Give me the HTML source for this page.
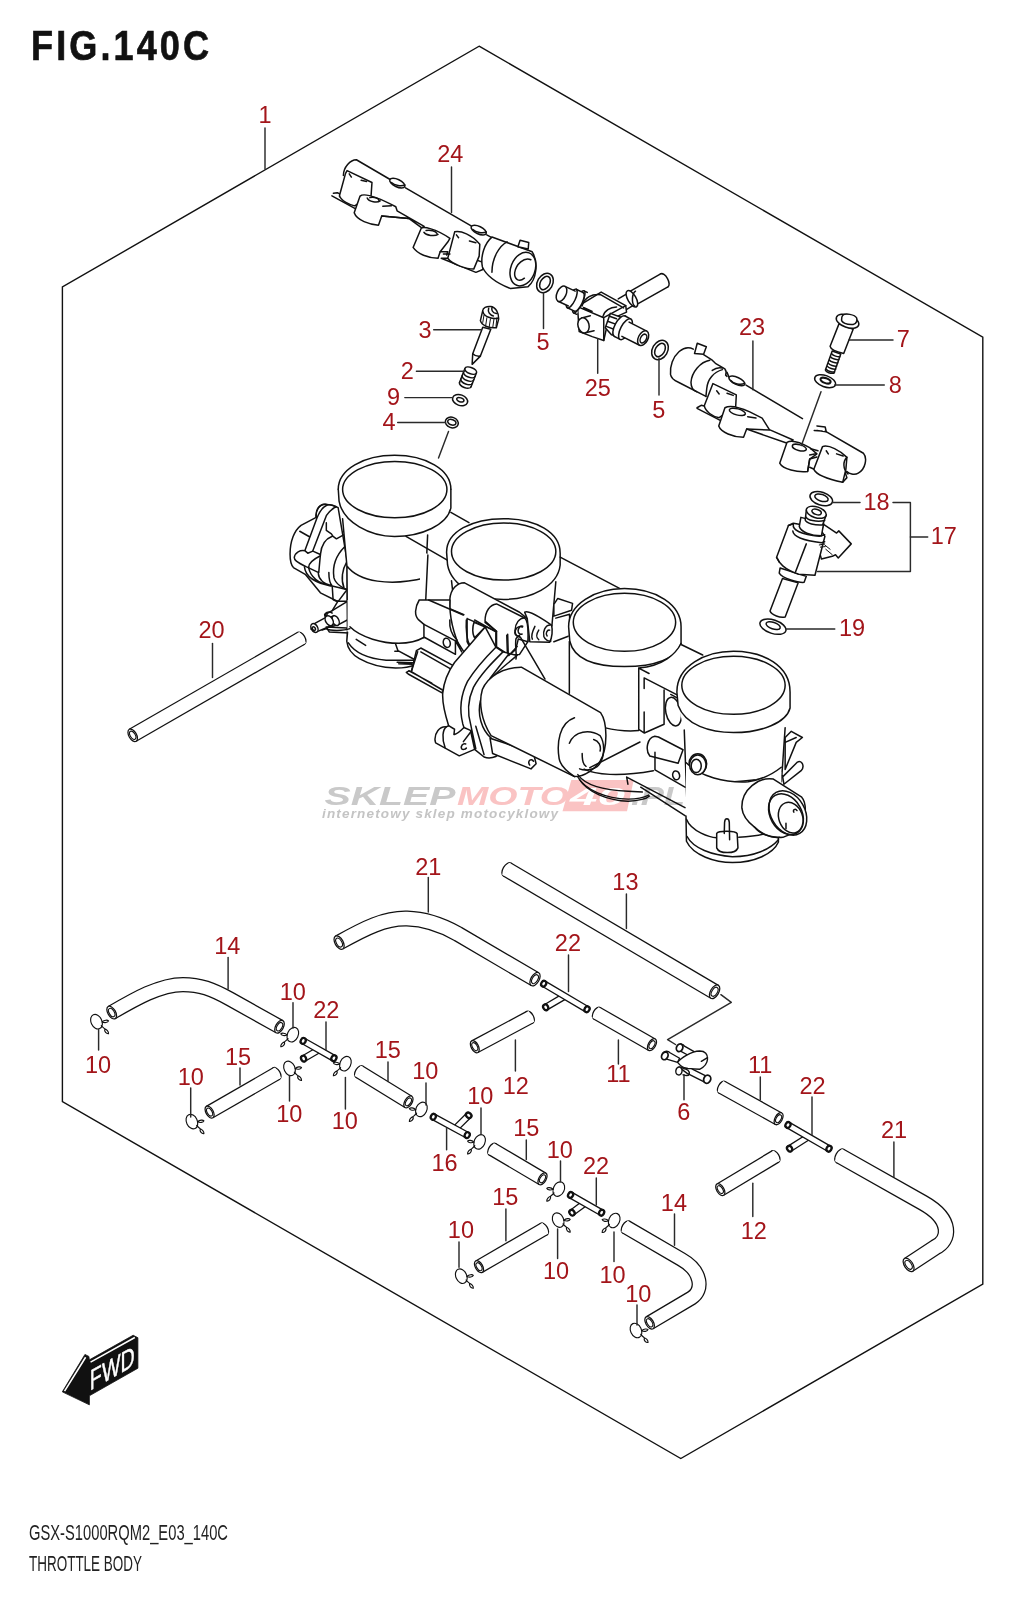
<!DOCTYPE html>
<html><head><meta charset="utf-8"><title>FIG.140C Throttle Body</title>
<style>
html,body{margin:0;padding:0;background:#fff;width:1016px;height:1600px;overflow:hidden}
svg{display:block}
.l{font-family:"Liberation Sans",sans-serif;font-size:23.5px;fill:#a3151a;text-anchor:middle}
.ln{fill:none;stroke:#2a2a2a;stroke-width:1.45;stroke-linecap:round;stroke-linejoin:round}
.p{fill:#fff;stroke:#111;stroke-width:1.5;stroke-linecap:round;stroke-linejoin:round}
.s{fill:none;stroke:#111;stroke-width:1.5;stroke-linecap:round;stroke-linejoin:round}
g.z *{vector-effect:non-scaling-stroke}
.t{fill:none;stroke:#111;stroke-width:1.1;stroke-linecap:round;stroke-linejoin:round}
</style></head><body>
<svg width="1016" height="1600" viewBox="0 0 1016 1600">
<!-- 00_frame.svg -->
<polygon points="479.1,46.2 982.8,337.1 982.8,1284.2 680.8,1458.5 62.4,1101.7 62.4,287" fill="none" stroke="#111" stroke-width="1.4" stroke-linejoin="miter"/>
<text transform="translate(31,60) scale(0.84,1)" x="0" y="0" textLength="212" lengthAdjust="spacing" style="font-family:'Liberation Sans',sans-serif;font-weight:bold;font-size:43px;fill:#111;stroke:#111;stroke-width:0.7">FIG.140C</text>
<text x="29" y="1540" textLength="199" lengthAdjust="spacingAndGlyphs" style="font-family:'Liberation Sans',sans-serif;font-size:22.5px;fill:#222">GSX-S1000RQM2_E03_140C</text>
<text x="29" y="1571" textLength="113" lengthAdjust="spacingAndGlyphs" style="font-family:'Liberation Sans',sans-serif;font-size:22.5px;fill:#222">THROTTLE BODY</text>

<!-- 10_rail24.svg -->
<g transform="translate(320,150) scale(0.21654)" class="s" style="vector-effect:non-scaling-stroke">
<g style="fill:#fff;stroke:#111;stroke-width:1.5;vector-effect:non-scaling-stroke">
<path vector-effect="non-scaling-stroke" d="M108,118 C108,80 140,45 168,45 L800,405 L760,560 L590,470 L430,430 L160,270 L55,212 L58,205 L90,200 Z" style="stroke:none"/>
<path vector-effect="non-scaling-stroke" d="M108,118 C108,80 140,45 168,45 L322,135 M395,175 L698,350 M770,392 L800,408" fill="none"/>
<ellipse vector-effect="non-scaling-stroke" cx="357" cy="153" rx="38" ry="17" transform="rotate(25 357 153)"/>
<path vector-effect="non-scaling-stroke" d="M330,150 C345,165 375,168 392,162" fill="none"/>
<ellipse vector-effect="non-scaling-stroke" cx="733" cy="370" rx="38" ry="17" transform="rotate(25 733 370)"/>
<path vector-effect="non-scaling-stroke" d="M706,367 C721,382 751,385 768,379" fill="none"/>
<path vector-effect="non-scaling-stroke" d="M62,200 L80,197 L95,205 L90,215 M55,212 L165,272" fill="none"/>
<path vector-effect="non-scaling-stroke" d="M125,95 L240,150 L236,210 L160,258 C140,255 95,235 90,210 L118,108 Z"/>
<path vector-effect="non-scaling-stroke" d="M135,110 L145,125 M190,140 L215,145" fill="none"/>
<path vector-effect="non-scaling-stroke" d="M350,262 L356,281 L481,353 L470,360 L410,316 L285,305 L270,347 C230,345 170,325 158,290 L185,213 C200,200 240,205 350,262 Z"/>
<path vector-effect="non-scaling-stroke" d="M285,305 L410,316" fill="none"/>
<path vector-effect="non-scaling-stroke" d="M218,222 C225,240 265,245 278,235 M230,220 C250,215 270,222 272,232" fill="none"/>
<path vector-effect="non-scaling-stroke" d="M290,260 L330,258" fill="none"/>
<path vector-effect="non-scaling-stroke" d="M560,500 L720,565 L752,552 L756,520 L700,500 Z"/>
<path vector-effect="non-scaling-stroke" d="M468,360 C480,355 530,360 600,408 L590,425 L555,470 L545,500 C500,500 450,480 430,450 Z"/>
<path vector-effect="non-scaling-stroke" d="M480,380 C490,395 530,400 545,390 M490,372 C510,368 535,375 540,385" fill="none"/>
<path vector-effect="non-scaling-stroke" d="M555,470 L590,470 L585,485" fill="none"/>
<path vector-effect="non-scaling-stroke" d="M622,378 C650,372 700,390 738,435 L735,490 L710,550 C680,550 610,530 590,500 Z"/>
<path vector-effect="non-scaling-stroke" d="M630,392 L640,405 M690,420 L720,428 M570,480 L600,480" fill="none"/>
<path vector-effect="non-scaling-stroke" d="M794,402 L980,470 C1010,520 1000,600 960,632 L880,640 C830,620 770,585 750,540 C740,490 760,430 794,402 Z"/>
<path vector-effect="non-scaling-stroke" d="M864,424 C829,442 794,497 794,565" fill="none"/>
<ellipse vector-effect="non-scaling-stroke" cx="937" cy="550" rx="56" ry="80" transform="rotate(21 937 550)"/>
<path vector-effect="non-scaling-stroke" d="M974,507 C944,492 904,527 899,567 C896.5,597 919,612 944,592" fill="none"/>
<path vector-effect="non-scaling-stroke" d="M914,447 L924,417 L964,427 L961.5,457 Z"/>
</g>
</g>

<!-- 20_part25.svg -->
<g class="z" transform="translate(550,265) scale(0.12795)" style="stroke-linejoin:round;stroke-linecap:round">
<ellipse cx="893" cy="120" rx="29" ry="58" transform="rotate(150.41 893 120)" fill="#fff" stroke="#111" stroke-width="1.5"/>
<polygon points="864.36,69.57 621.36,207.57 678.64,308.43 921.64,170.43" fill="#fff" stroke="none"/>
<path d="M864.36,69.57 L621.36,207.57 M921.64,170.43 L678.64,308.43" fill="none" stroke="#111" stroke-width="1.5" stroke-linecap="round"/>
<polygon points="613.25,217.41 533.25,265.41 586.75,354.59 666.75,306.59" fill="#fff" stroke="none"/>
<path d="M613.25,217.41 L533.25,265.41 M666.75,306.59 L586.75,354.59" fill="none" stroke="#111" stroke-width="1.5" stroke-linecap="round"/>
<ellipse cx="640" cy="264" rx="32" ry="72" transform="rotate(-30 640 264)" fill="#fff" stroke="#111" stroke-width="1.5"/>
<path d="M668,205 C640,225 635,300 662,322" fill="none" stroke="#111" stroke-width="1.5"/>
<path d="M215,325 L400,212 L592,318 L598,368 L530,400 L470,450 L440,500 L420,590 L330,560 L228,520 Z" fill="#fff" stroke="#111" stroke-width="1.5"/>
<path d="M215,325 L420,412 L420,590 M420,412 L592,318 M250,320 C270,255 330,222 395,232 L575,335 M262,332 L330,362 M415,400 C425,355 470,330 520,328" fill="none" stroke="#111" stroke-width="1.5"/>
<polygon points="315.45,396.79 247.45,413.79 276.55,530.21 344.55,513.21" fill="#fff" stroke="none"/>
<path d="M315.45,396.79 L247.45,413.79 M344.55,513.21 L276.55,530.21" fill="none" stroke="#111" stroke-width="1.5" stroke-linecap="round"/>
<ellipse cx="262" cy="472" rx="43.2" ry="60" transform="rotate(165.96 262 472)" fill="#fff" stroke="#111" stroke-width="1.5"/>
<polygon points="291.11,214.36 266.11,202.36 183.89,373.64 208.89,385.64" fill="#fff" stroke="none"/>
<path d="M291.11,214.36 L266.11,202.36 M208.89,385.64 L183.89,373.64" fill="none" stroke="#111" stroke-width="1.5" stroke-linecap="round"/>
<ellipse cx="225" cy="288" rx="28.5" ry="95" transform="rotate(-154.36 225 288)" fill="#fff" stroke="#111" stroke-width="1.5"/>
<ellipse cx="225" cy="288" rx="28" ry="80" transform="rotate(-154.7 225 288)" fill="#fff" stroke="#111" stroke-width="1.5"/>
<polygon points="259.19,215.67 204.19,189.67 135.81,334.33 190.81,360.33" fill="#fff" stroke="none"/>
<path d="M259.19,215.67 L204.19,189.67 M190.81,360.33 L135.81,334.33" fill="none" stroke="#111" stroke-width="1.5" stroke-linecap="round"/>
<ellipse cx="170" cy="262" rx="28" ry="80" transform="rotate(-154.7 170 262)" fill="#fff" stroke="#111" stroke-width="1.5"/>
<polygon points="196.87,203.91 116.87,166.91 63.13,283.09 143.13,320.09" fill="#fff" stroke="none"/>
<path d="M196.87,203.91 L116.87,166.91 M143.13,320.09 L63.13,283.09" fill="none" stroke="#111" stroke-width="1.5" stroke-linecap="round"/>
<ellipse cx="90" cy="225" rx="35.2" ry="64" transform="rotate(-155.18 90 225)" fill="#fff" stroke="#111" stroke-width="1.5"/>
<path d="M432,490 L472,378 L560,410 L610,430 L560,560 L480,545 Z" fill="#fff" stroke="#111" stroke-width="1.5"/>
<path d="M465,400 L520,420 M450,440 L535,470 M440,480 L520,510" fill="none" stroke="#111" stroke-width="1.5"/>
<ellipse cx="545" cy="478" rx="37.8" ry="90" transform="rotate(28.07 545 478)" fill="#fff" stroke="#111" stroke-width="1.5"/>
<polygon points="502.65,557.41 547.65,581.41 632.35,422.59 587.35,398.59" fill="#fff" stroke="none"/>
<path d="M502.65,557.41 L547.65,581.41 M587.35,398.59 L632.35,422.59" fill="none" stroke="#111" stroke-width="1.5" stroke-linecap="round"/>
<ellipse cx="590" cy="502" rx="37.8" ry="90" transform="rotate(28.07 590 502)" fill="#fff" stroke="#111" stroke-width="1.5"/>
<polygon points="561.95,557.29 699.95,627.29 756.05,516.71 618.05,446.71" fill="#fff" stroke="none"/>
<path d="M561.95,557.29 L699.95,627.29 M618.05,446.71 L756.05,516.71" fill="none" stroke="#111" stroke-width="1.5" stroke-linecap="round"/>
<ellipse cx="728" cy="572" rx="37.2" ry="62" transform="rotate(26.9 728 572)" fill="#fff" stroke="#111" stroke-width="1.5"/>
<ellipse cx="731.32" cy="573.68" rx="22.32" ry="37.2" transform="rotate(26.9 728 572)" fill="#fff" stroke="#111" stroke-width="1.5"/>
</g>
<g><ellipse cx="545" cy="283" rx="7.6" ry="10.3" transform="rotate(30 545 283)" fill="#fff" stroke="#111" stroke-width="1.5"/><ellipse cx="545" cy="283" rx="4.6" ry="7.2" transform="rotate(30 545 283)" fill="#fff" stroke="#111" stroke-width="1.5"/><ellipse cx="660" cy="350" rx="7.6" ry="10.3" transform="rotate(30 660 350)" fill="#fff" stroke="#111" stroke-width="1.5"/><ellipse cx="660" cy="350" rx="4.6" ry="7.2" transform="rotate(30 660 350)" fill="#fff" stroke="#111" stroke-width="1.5"/></g>
<!-- 30_rail23.svg -->
<g class="z" transform="translate(665,335) scale(0.2067)" style="fill:#fff;stroke:#111;stroke-width:1.5;stroke-linejoin:round;stroke-linecap:round">
<path d="M130,60 L300,180 L960,575 C975,600 970,650 930,672 L880,700 L720,690 L160,360 L150,350 L190,335 L200,290 C110,265 40,240 30,190 C20,130 60,60 130,60 Z" stroke="none"/>





<path d="M137,68.6 C114,57 91.4,61 68.6,80 C38,106.7 22.9,152.4 26.7,190.5 C30.5,213 45.7,221 64.8,228.6 L198,297" fill="none"/>
<path d="M186.7,95 L228.6,122 L243.8,137 L289.6,163.8 C297,175 297,186.7 293.4,194 L300,200" fill="none"/>
<path d="M217,122 C171,129.5 129.5,179 125.7,228.6 C125.7,251.5 133,266.7 152.4,274" fill="none"/>
<path d="M278,167.6 C236,179 205.7,213 202,259 L198,297 M228.6,171.4 C243.8,160 262.9,156 278,160" fill="none"/>
<path d="M142.9,89.5 L156,40 L200,57 L186.7,93.3 Z"/>
<path d="M300,180 L310,205 M392,242 L665,405 M775,465 L960,572 C980,595 970,650 935,668 C915,680 890,670 880,660" fill="none"/>
<ellipse cx="348" cy="222" rx="42" ry="17" transform="rotate(25 348 222)"/>
<path d="M318,220 C330,238 368,242 385,234" fill="none"/>
<path d="M735,440 L775,445 L780,468 L735,462 M722,462 L760,465" fill="none"/>
<path d="M155,352 L175,340 L195,345 M155,355 L265,412" fill="none"/>
<path d="M232,235 L345,290 L342,345 L262,400 C230,395 195,370 190,342 Z"/>
<path d="M250,270 L262,285 M300,282 L330,292" fill="none"/>
<path d="M290,352 C310,340 350,345 410,372 L470,402 L505,458 L620,508 L595,525 L395,455 L380,495 C330,495 270,470 260,440 Z"/>
<path d="M395,455 L505,460" fill="none"/>
<ellipse cx="350" cy="372" rx="40" ry="15" transform="rotate(15 350 372)"/>
<path d="M400,395 L440,402" fill="none"/>
<path d="M590,520 C605,510 640,512 700,545 L735,575 L700,600 L690,660 C640,665 570,650 555,620 Z"/>
<ellipse cx="650" cy="545" rx="35" ry="14" transform="rotate(15 650 545)"/>
<path d="M690,660 L700,600 L735,590" fill="none"/>
<path d="M705,550 L740,560 M700,580 L730,575" fill="none"/>
<path d="M700,640 L860,712 L880,690 L870,660" fill="none"/>
<path d="M762,540 C790,528 850,560 880,592 L875,650 L860,712 C800,700 735,680 720,650 Z"/>
<path d="M880,592 C860,610 860,650 885,672" fill="none"/>
<path d="M780,560 L790,575 M830,575 L862,585" fill="none"/>
</g>

<!-- 40_small.svg -->
<g class="z" transform="translate(800,305) scale(0.05906)" style="fill:#fff;stroke:#111;stroke-width:1.5;stroke-linejoin:round;stroke-linecap:round">
<path d="M545,780 L430,1100 C440,1140 520,1165 575,1155 L690,830 Z"/>
<path d="M540,830 C560,860 640,880 675,875 M520,880 C540,910 620,930 658,925 M500,935 C520,965 600,985 640,980 M482,990 C500,1020 580,1040 620,1035 M465,1040 C485,1070 565,1090 605,1085 M448,1090 C465,1120 545,1140 585,1135" fill="none"/>
<path d="M660,320 L510,700 C520,760 650,800 740,820 L900,410 Z"/>
<ellipse cx="805" cy="275" rx="200" ry="105" transform="rotate(20 805 275)"/>
<path d="M705,240 C690,300 800,340 900,330 C960,320 970,260 960,220 C930,160 760,130 720,180 C710,195 705,215 705,240 Z"/>
<ellipse cx="425" cy="1290" rx="185" ry="95" transform="rotate(20 425 1290)"/>
<ellipse cx="432" cy="1280" rx="90" ry="42" transform="rotate(20 432 1280)" style="stroke-width:2"/>
</g>
<g class="z" transform="translate(380,300) scale(0.11811)" style="fill:#fff;stroke:#111;stroke-width:1.5;stroke-linejoin:round;stroke-linecap:round">
<path d="M870,230 L785,455 L780,545 L850,475 L938,248 Z"/>
<path d="M785,455 C800,470 830,478 850,475" fill="none"/>
<path d="M870,90 L850,175 C860,215 920,240 985,235 L1005,160 C1005,110 980,60 940,55 C900,50 870,70 870,90 Z"/>
<path d="M872,100 C880,140 950,165 1000,155" fill="none"/>
<path d="M880,130 L870,190 M905,150 L895,215 M935,160 L925,225 M965,160 L955,230 M990,150 L982,222" fill="none" style="stroke-width:1"/>
<path d="M920,70 C910,100 930,130 960,135 M950,60 C940,80 950,110 985,115" fill="none"/>
<path d="M719.1,580.2 L673.1,698.2 A52,26 20 0 0 770.9,733.8 L816.9,615.8 Z" stroke="none"/>
<path d="M719.1,580.2 L673.1,698.2 M816.9,615.8 L770.9,733.8" fill="none"/>
<ellipse cx="768.0" cy="598.0" rx="52" ry="26" transform="rotate(20 768.0 598.0)"/>
<path d="M707.6,609.7 A52,26 20 0 0 805.4,645.3" fill="none"/>
<path d="M696.1,639.2 A52,26 20 0 0 793.9,674.8" fill="none"/>
<path d="M684.6,668.7 A52,26 20 0 0 782.4,704.3" fill="none"/>
<path d="M673.1,698.2 A52,26 20 0 0 770.9,733.8" fill="none"/>
<ellipse cx="678" cy="848" rx="66" ry="45" transform="rotate(20 678 848)"/>
<ellipse cx="680" cy="845" rx="32" ry="17" transform="rotate(20 680 845)"/>
<ellipse cx="608" cy="1037" rx="56" ry="44" transform="rotate(20 608 1037)"/>
<ellipse cx="608" cy="1035" rx="36" ry="23" transform="rotate(20 608 1035)"/>
</g>
<line x1="448.5" y1="431.5" x2="438.5" y2="458" class="ln"/>
<line x1="821" y1="391.8" x2="801.4" y2="445.6" class="ln"/>
<g class="z" transform="translate(750,480) scale(0.10827)" style="fill:#fff;stroke:#111;stroke-width:1.5;stroke-linejoin:round;stroke-linecap:round">
<ellipse cx="658" cy="172" rx="108" ry="60" transform="rotate(18 658 172)"/>
<ellipse cx="660" cy="164" rx="64" ry="31" transform="rotate(18 660 164)"/>
<path d="M300,910 L185,1210 C200,1250 280,1275 325,1265 L445,950 Z"/>
<path d="M278,812 L270,860 C300,910 450,950 500,945 L520,890 Z"/>
<path d="M680,410 L800,490 L820,470 L935,590 L815,720 L790,690 L760,705 L660,730 L620,600 Z"/>
<path d="M700,640 L760,690 M690,600 L740,640" fill="none" style="stroke-width:1"/>
<path d="M355,420 L245,715 C270,760 300,820 450,870 L600,880 L692,520 L640,440 L400,400 Z"/>
<path d="M355,420 L400,405 M250,720 L270,760" fill="none"/>
<path d="M400,410 C390,460 470,505 640,520 L690,505" fill="none"/>
<path d="M395,470 C400,520 500,560 660,580 L690,570" fill="none"/>
<path d="M520,590 L420,850" fill="none"/>
<path d="M640,600 L690,590 M650,620 L695,615" fill="none" style="stroke-width:1"/>
<path d="M470,345 L455,430 C470,480 560,515 660,515 L680,400 Z"/>
<path d="M520,280 L510,370 C520,400 600,420 670,415 L705,320 Z"/>
<path d="M515,340 C530,370 610,390 690,375" fill="none"/>
<ellipse cx="612" cy="298" rx="95" ry="50" transform="rotate(18 612 298)"/>
<ellipse cx="615" cy="295" rx="45" ry="24" transform="rotate(18 615 295)"/>
<ellipse cx="212" cy="1355" rx="125" ry="62" transform="rotate(18 212 1355)"/>
<ellipse cx="214" cy="1345" rx="68" ry="30" transform="rotate(18 214 1345)"/>
</g>

<!-- 49_linkage.svg -->
<g class="z" transform="translate(285,495) scale(0.084337)" style="fill:#fff;stroke:#111;stroke-width:1.5;stroke-linejoin:round;stroke-linecap:round">
<path d="M370,265 L190,360 C110,420 60,550 60,700 C60,780 80,840 100,860 L240,940 L420,1160 L620,1260 L740,1260 L740,800 L630,150 L610,140 C560,120 520,110 480,110 C400,110 360,190 370,265 Z"/>
<path d="M370,265 C360,190 400,110 470,110 C500,110 510,120 490,125 C440,150 400,220 380,270 L235,660 M480,125 C520,110 560,115 610,140 C560,160 520,200 490,245 L330,660" fill="none"/>
<path d="M175,430 L290,495" fill="none"/>
<path d="M235,660 C180,650 120,680 110,740 C110,770 130,790 250,850 L400,920 L420,705 L330,665 L270,690 Z"/>
<path d="M490,330 L490,420 L550,460 L570,490 L610,520 L700,470 M420,705 C430,600 480,520 560,490 M280,860 C275,800 340,760 420,720" fill="none"/>
<path d="M710,610 C600,720 560,850 580,980 C600,1060 700,1110 730,1120 M730,800 C680,880 660,1000 700,1100" fill="none"/>
<path d="M230,850 C240,950 320,1040 560,1080 L730,1120 M280,860 C300,960 380,1040 540,1080 M395,930 C400,1000 450,1050 560,1080 M520,920 C520,1000 540,1060 560,1080 L570,1240 C600,1260 630,1260 640,1250 L730,1130" fill="none"/>
<path d="M740,1262 L560,1372 L470,1420 L590,1560 L800,1450 C820,1400 790,1300 740,1262 Z"/>
<path d="M560,1372 L630,1255" fill="none"/>
<path d="M600,1430 L390,1510 L310,1600 L640,1600 L620,1540 Z" stroke="none"/>
<path d="M580,1430 L390,1510 L310,1590 M620,1540 L440,1600" fill="none"/>
<ellipse cx="600" cy="1490" rx="38" ry="62" transform="rotate(-25 600 1490)"/>
<path d="M475,1440 C460,1400 520,1370 560,1400 M480,1440 L500,1420" fill="none"/>
</g>
<g class="z" transform="translate(280,440) scale(0.19685)" style="fill:#fff;stroke:#111;stroke-width:1.5;stroke-linejoin:round;stroke-linecap:round">
<path d="M170,935 L245,895 L270,940 L185,975 Z"/>
<ellipse cx="250" cy="918" rx="18" ry="27" transform="rotate(-30 250 918)"/>
<ellipse cx="175" cy="955" rx="16" ry="24" transform="rotate(-30 175 955)"/>
<ellipse cx="172" cy="958" rx="7" ry="10" transform="rotate(-30 172 958)"/>
<path d="M235,950 L340,955 L350,980 L250,975 Z"/>
</g>

<!-- 50_tb1.svg -->
<g class="z" transform="translate(280,440) scale(0.19685)" style="fill:#fff;stroke:#111;stroke-width:1.5;stroke-linejoin:round;stroke-linecap:round">
<!-- cylinder 1 -->
<path d="M296,250 C296,150 425,78 582,78 C740,78 868,150 868,250 L868,345 C868,380 860,420 850,440 L960,420 L1016,450 L1016,1016 L343,1016 L340,640 L318,400 C305,380 300,340 300,310 Z" stroke="none"/>
<path d="M296,250 C296,150 425,78 582,78 C740,78 868,150 868,250" fill="none"/>
<path d="M296,250 L300,310 C320,420 460,490 582,490 C720,490 850,430 868,345 L868,250" fill="none"/>
<ellipse cx="583" cy="252" rx="265" ry="143"/>
<path d="M318,400 L340,640 L343,1016 M750,482 L740,700 L735,1016 M340,640 C400,720 560,745 738,700" fill="none"/>
<path d="M868,368 L960,420 M640,490 L850,610" fill="none"/>
</g>



<!-- 51_tb2.svg -->
<g class="z" transform="translate(420,500) scale(0.19685)" style="fill:#fff;stroke:#111;stroke-width:1.5;stroke-linejoin:round;stroke-linecap:round">
<!-- frame between cyl1 and cyl2 -->
<path d="M30,270 L175,330 L160,1016 L0,1016 L0,250 Z" stroke="none"/>
<path d="M40,280 L20,700" fill="none"/>
<!-- cylinder 2 -->
<path d="M135,265 C135,160 265,95 425,95 C590,95 712,165 712,270 L712,330 L690,415 L670,640 L600,800 L170,800 L160,410 L140,330 Z" stroke="none"/>
<path d="M135,265 C135,160 265,95 425,95 C590,95 712,165 712,270 L712,330 C700,440 560,505 425,505 C300,505 160,440 140,330 L135,265" fill="none"/>
<ellipse cx="425" cy="262" rx="265" ry="145"/>
<path d="M690,415 L670,640 M160,410 L168,480" fill="none"/>
<path d="M712,290 L1016,450" fill="none"/>
<path d="M680,530 L700,500 L775,525 L770,560 L680,590 Z"/>
<path d="M690,600 L760,580 L760,690 L680,720" fill="none"/>
</g>
<g class="z" transform="translate(430,570) scale(0.12795)" style="fill:#fff;stroke:#111;stroke-width:1.5;stroke-linejoin:round;stroke-linecap:round">
<path d="M0,240 L150,320" fill="none"/>
<!-- bracket block -->
<path d="M155,230 C160,150 210,100 270,100 L700,330 L760,380 L765,560 L700,660 L600,665 L520,600 L265,640 L175,500 L150,420 Z"/>
<path d="M150,300 L265,350 M290,380 L290,560 L330,640 M290,380 L520,480 M345,430 C330,470 340,520 360,540" fill="none"/>
<!-- joint cylinder 2 (rear right) -->
<path d="M740,330 C760,318 800,330 950,430 C960,470 955,530 935,565 L780,560 L760,380 Z"/>
<path d="M940,430 C900,430 880,480 890,520 C900,550 930,560 945,555 M935,470 C915,465 900,500 915,515 M820,440 C800,480 790,520 800,540 M850,470 C830,500 830,530 850,545" fill="none"/>
<!-- joint cylinder 1 -->
<path d="M430,400 C430,320 470,270 520,265 L740,375 C765,395 770,450 765,560 L690,540 L670,620 L620,665 L520,600 L520,480 Z"/>
<path d="M740,375 C700,370 665,420 665,470 C665,500 680,520 700,520 M725,440 C700,430 685,465 690,485 C695,500 710,505 720,500" fill="none"/>
<path d="M520,480 L430,410 M600,510 L605,660" fill="none"/>
</g>

<!-- 52_tb3.svg -->
<g class="z" transform="translate(560,580) scale(0.24606)" style="fill:#fff;stroke:#111;stroke-width:1.5;stroke-linejoin:round;stroke-linecap:round">
<!-- cylinder 3 -->
<path d="M35,190 C35,100 140,35 262,35 C390,35 492,100 492,190 L492,262 L580,305 L480,600 L320,612 L180,600 C80,560 40,500 38,440 Z" stroke="none"/>
<path d="M35,190 C35,100 140,35 262,35 C390,35 492,100 492,190 L492,262 M35,190 L40,250 C60,330 160,352 262,352 C380,352 480,320 492,255" fill="none"/>
<ellipse cx="262" cy="172" rx="208" ry="118"/>
<path d="M38,250 L38,460 M180,600 C230,612 290,615 320,612 M492,262 L580,305" fill="none"/>
<!-- channel frame -->
<path d="M320,358 C420,350 470,300 492,258 L492,480 L423,447 L423,586 L343,622 L320,607 Z" stroke="none"/>
<path d="M320,358 C420,350 470,300 492,258 M320,358 L320,607 L343,622 L423,586 L423,447 M320,358 L362,380 M342,398 L478,468 M342,398 L342,441 M342,536 L342,622 M450,465 L478,480" fill="none"/>
<ellipse cx="461" cy="535" rx="31" ry="59" transform="rotate(-12 461 535)"/>
<!-- nipple behind cyl4 -->
<path d="M385,635 C355,640 345,690 365,715 L480,745 L500,690 L400,638 Z"/>
<path d="M386,700 L386,772 L508,842 M271,801 L508,925 M328,842 L508,958 M271,801 L276,830" fill="none"/>
<ellipse cx="472" cy="794" rx="14" ry="18" transform="rotate(-15 472 794)"/>
<!-- cylinder 4 -->
<path d="M475,455 C475,350 590,290 705,290 C830,290 935,350 935,455 L935,520 L915,600 L900,1016 L520,1016 L505,610 L480,510 Z" stroke="none"/>
<path d="M475,455 C475,350 590,290 705,290 C830,290 935,350 935,455 L935,520 C920,580 820,620 705,620 C610,620 510,590 480,510 L475,455" fill="none"/>
<ellipse cx="705" cy="428" rx="210" ry="118"/>
<path d="M505,610 L520,1016 M915,600 L900,820" fill="none"/>
<path d="M520,790 C580,825 700,832 905,795" fill="none"/>
<ellipse cx="560" cy="748" rx="36" ry="42"/>
<ellipse cx="553" cy="752" rx="22" ry="28"/>
<!-- right bracket -->
<path d="M915,640 L940,615 L985,640 L960,660 L915,770 Z"/>
<path d="M915,660 L960,640" fill="none"/>
<path d="M905,800 L965,740 C985,730 995,760 980,775 L910,830 Z"/>
</g>
<g class="z" transform="translate(660,720) scale(0.15748)" style="fill:#fff;stroke:#111;stroke-width:1.5;stroke-linejoin:round;stroke-linecap:round">
<path d="M165,260 C250,360 420,400 560,392 L770,330 L775,600 L750,780 C720,860 600,905 460,905 C350,905 200,860 170,770 L165,600 Z" stroke="none"/>
<path d="M165,270 C250,360 420,400 560,392 C640,380 720,340 770,300" fill="none"/>
<ellipse cx="240" cy="285" rx="52" ry="62"/>
<ellipse cx="230" cy="292" rx="32" ry="42"/>
<path d="M165,610 L168,770 C210,860 350,905 460,905 C600,905 720,850 752,775 L750,690" fill="none"/>
<path d="M168,630 C200,710 320,745 360,748 M500,745 C600,740 700,720 752,690 M172,740 C210,815 330,858 460,868 C600,868 700,820 752,760" fill="none"/>
<path d="M360,720 L360,812 C375,852 480,852 495,812 L490,722 C480,702 372,702 360,720 Z"/>
<path d="M408,720 L410,650 C412,620 438,620 440,650 L442,760" fill="none"/>
<!-- big nipple -->
<path d="M520,560 C515,440 630,360 720,375 L900,490 C935,530 930,650 880,705 L780,745 C700,752 640,720 600,680 C560,650 525,610 520,560 Z"/>
<path d="M600,680 C630,720 700,750 760,745" fill="none"/>
<ellipse cx="812" cy="590" rx="108" ry="150" transform="rotate(-30 812 590)"/>
<ellipse cx="800" cy="598" rx="100" ry="138" transform="rotate(-30 800 598)" fill="none"/>
<ellipse cx="830" cy="620" rx="75" ry="100" transform="rotate(-20 830 620)"/>
<path d="M870,575 C860,560 840,570 850,585 M800,655 L800,690" fill="none"/>
</g>

<!-- 52z_tbbottom.svg -->
<g class="z" transform="translate(320,600) scale(0.15748)" style="fill:#fff;stroke:#111;stroke-width:1.5;stroke-linejoin:round;stroke-linecap:round">
<path d="M175,160 L170,260 C175,300 200,340 240,365 C320,420 420,432 480,432 C540,432 580,420 600,410 L640,240 L665,235 L660,0 L175,0 Z" stroke="none"/>
<path d="M190,170 C260,240 400,275 500,275 C570,275 630,255 665,235" fill="none"/>
<path d="M175,205 L170,262 C175,310 210,350 250,372 C330,418 420,430 480,432 C540,432 580,422 600,412" fill="none"/>
<path d="M180,272 C220,332 300,372 420,382 L600,382 M230,250 L290,288 M490,395 L590,398 M500,405 L585,408" fill="none"/>
<path d="M480,280 L495,322 L600,378 M475,325 L500,325" fill="none"/>
<path d="M40,182 C60,197 150,197 190,182" fill="none"/>
<!-- block -->
<path d="M630,0 C600,50 600,100 625,125 L660,155 L660,235 L860,345 L860,260 L900,330 C840,200 820,100 825,0 Z"/>
<path d="M660,155 L860,260 M690,0 L910,95" fill="none"/>
<ellipse cx="805" cy="272" rx="22" ry="30" transform="rotate(-15 805 272)"/>
<!-- slanted bar -->
<path d="M612,322 L640,305 L852,420 L830,442 L775,590 L560,470 L548,460 L565,450 L580,455 Z"/>
<path d="M640,330 L835,440 M620,328 L580,455 L775,570 M565,450 L710,528" fill="none"/>
</g>

<!-- 53_motor.svg -->
<g class="z" transform="translate(425,620) scale(0.11811)" style="fill:#fff;stroke:#111;stroke-width:1.5;stroke-linejoin:round;stroke-linecap:round">
<!-- left block lines -->

<path d="M210,0 C205,70 230,130 270,170 M350,0 C345,80 355,180 380,210" fill="none"/>
<path d="M415,20 C400,60 400,120 420,150 L510,60 Z"/>
<path d="M420,0 L600,100 L600,230" fill="none"/>
<!-- mount ring -->
<path d="M510,60 L250,360 C200,430 160,520 150,620 C145,700 170,800 200,895 L180,905 C120,900 80,960 85,1020 L90,1040 L290,1150 L420,1095 L500,1160 C550,1180 600,1160 620,1140 L560,1000 C480,930 440,800 470,680 C500,560 560,480 660,400 L780,300 L660,270 L600,230 Z"/>
<path d="M600,230 C500,330 420,420 360,520 C300,640 290,760 320,880 L330,910 L385,935 L420,1095 M660,270 C560,370 470,460 410,570 C360,680 360,800 390,900 L430,1090 M430,900 L500,1140 M700,300 L550,495" fill="none"/>
<path d="M200,895 L250,925 L245,970 M330,910 C300,940 280,960 250,970 M180,905 C150,930 140,1000 170,1080 M325,1030 L385,950" fill="none"/>
<path d="M345,1050 C320,1040 300,1070 310,1090 C320,1100 340,1095 350,1085" fill="none"/>
<path d="M710,300 L780,225 M770,330 C780,300 760,230 770,160 C780,140 800,135 810,150 L1016,500 M700,120 L705,300" fill="none"/>
<path d="M825,60 C790,40 760,80 760,110 C765,140 790,140 800,130" fill="none"/>
</g>
<g class="z" transform="translate(380,600) scale(0.25591)" style="fill:#fff;stroke:#111;stroke-width:1.5;stroke-linejoin:round;stroke-linecap:round">
<!-- bottom brackets under motor -->
<path d="M430,540 L440,600 L590,660 L610,640 L600,600 L490,560 Z"/>
<path d="M600,630 C590,615 575,630 585,645" fill="none"/>
<!-- motor body -->
<path d="M554,263 L862,440 C890,480 890,580 860,630 C840,660 800,690 760,690 L434,530 C395,470 385,400 400,350 C420,300 480,262 554,263 Z"/>
<path d="M760,460 C700,480 690,560 700,620 C705,650 730,670 760,690" fill="none"/>
<path d="M740,560 C760,510 820,505 860,530 C880,560 880,620 850,650 C830,665 800,668 780,660" fill="none"/>
<path d="M790,600 C790,630 795,645 805,650 M835,545 C855,550 865,570 860,590" fill="none"/>
<path d="M820,655 L1016,555" fill="none"/>
</g>

<!-- 54_extra.svg -->
<g fill="none" stroke="#111" stroke-width="1.4" stroke-linecap="round">
<path d="M584.1,769.1 C595.1,774.6 618.7,777 653.4,770.7"/>
<path d="M577.8,774.6 C585.7,785.7 606.1,790.4 628.2,791.2 L642.4,792"/>
<path d="M577.8,777 C585.7,790.4 606.1,798.3 628.2,799.1 C637.6,799.1 643.9,797.5 648.7,795.1"/>
<path d="M579.4,779.4 C587.2,792 607.7,800.6 628.2,801.2 C639.2,801.2 647.1,798.3 649.5,795.9"/>
</g>

<!-- 60_hoses.svg -->
<ellipse cx="301.2" cy="638.3" rx="3.8" ry="6.9" transform="rotate(-29.93 301.2 638.3)" fill="#fff" stroke="#111" stroke-width="1.25"/>
<path d="M132.7,735.3 L301.2,638.3" fill="none" stroke="#111" stroke-width="15.05" stroke-linecap="butt" stroke-linejoin="round"/>
<path d="M132.7,735.3 L301.2,638.3" fill="none" stroke="#fff" stroke-width="12.55" stroke-linecap="butt" stroke-linejoin="round"/>
<path d="M300.77,638.55 L302.76,637.4" stroke="#fff" stroke-width="12.55" stroke-linecap="butt"/>
<ellipse cx="132.7" cy="735.3" rx="3.8" ry="6.9" transform="rotate(-29.93 132.7 735.3)" fill="#fff" stroke="#111" stroke-width="1.25"/>
<ellipse cx="132.7" cy="735.3" rx="2.5" ry="4.55" transform="rotate(-29.93 132.7 735.3)" fill="#fff" stroke="#111" stroke-width="1.12"/>
<ellipse cx="507.1" cy="869.5" rx="4.12" ry="7.5" transform="rotate(-149.49 507.1 869.5)" fill="#fff" stroke="#111" stroke-width="1.25"/>
<path d="M714.6,991.8 L507.1,869.5" fill="none" stroke="#111" stroke-width="16.25" stroke-linecap="butt" stroke-linejoin="round"/>
<path d="M714.6,991.8 L507.1,869.5" fill="none" stroke="#fff" stroke-width="13.75" stroke-linecap="butt" stroke-linejoin="round"/>
<path d="M507.53,869.75 L505.55,868.59" stroke="#fff" stroke-width="13.75" stroke-linecap="butt"/>
<ellipse cx="714.6" cy="991.8" rx="4.12" ry="7.5" transform="rotate(-149.49 714.6 991.8)" fill="#fff" stroke="#111" stroke-width="1.25"/>
<ellipse cx="714.6" cy="991.8" rx="2.72" ry="4.95" transform="rotate(-149.49 714.6 991.8)" fill="#fff" stroke="#111" stroke-width="1.12"/>
<ellipse cx="276.5" cy="1073.5" rx="3.63" ry="6.6" transform="rotate(-29.98 276.5 1073.5)" fill="#fff" stroke="#111" stroke-width="1.25"/>
<path d="M209.6,1112.1 L276.5,1073.5" fill="none" stroke="#111" stroke-width="14.45" stroke-linecap="butt" stroke-linejoin="round"/>
<path d="M209.6,1112.1 L276.5,1073.5" fill="none" stroke="#fff" stroke-width="11.95" stroke-linecap="butt" stroke-linejoin="round"/>
<path d="M276.07,1073.75 L278.06,1072.6" stroke="#fff" stroke-width="11.95" stroke-linecap="butt"/>
<ellipse cx="209.6" cy="1112.1" rx="3.63" ry="6.6" transform="rotate(-29.98 209.6 1112.1)" fill="#fff" stroke="#111" stroke-width="1.25"/>
<ellipse cx="209.6" cy="1112.1" rx="2.4" ry="4.36" transform="rotate(-29.98 209.6 1112.1)" fill="#fff" stroke="#111" stroke-width="1.12"/>
<ellipse cx="359.2" cy="1071.6" rx="3.63" ry="6.6" transform="rotate(-148.37 359.2 1071.6)" fill="#fff" stroke="#111" stroke-width="1.25"/>
<path d="M408.4,1101.9 L359.2,1071.6" fill="none" stroke="#111" stroke-width="14.45" stroke-linecap="butt" stroke-linejoin="round"/>
<path d="M408.4,1101.9 L359.2,1071.6" fill="none" stroke="#fff" stroke-width="11.95" stroke-linecap="butt" stroke-linejoin="round"/>
<path d="M359.63,1071.86 L357.67,1070.66" stroke="#fff" stroke-width="11.95" stroke-linecap="butt"/>
<ellipse cx="408.4" cy="1101.9" rx="3.63" ry="6.6" transform="rotate(-148.37 408.4 1101.9)" fill="#fff" stroke="#111" stroke-width="1.25"/>
<ellipse cx="408.4" cy="1101.9" rx="2.4" ry="4.36" transform="rotate(-148.37 408.4 1101.9)" fill="#fff" stroke="#111" stroke-width="1.12"/>
<ellipse cx="596.9" cy="1013.2" rx="3.63" ry="6.6" transform="rotate(-150.24 596.9 1013.2)" fill="#fff" stroke="#111" stroke-width="1.25"/>
<path d="M652,1044.7 L596.9,1013.2" fill="none" stroke="#111" stroke-width="14.45" stroke-linecap="butt" stroke-linejoin="round"/>
<path d="M652,1044.7 L596.9,1013.2" fill="none" stroke="#fff" stroke-width="11.95" stroke-linecap="butt" stroke-linejoin="round"/>
<path d="M597.33,1013.45 L595.34,1012.31" stroke="#fff" stroke-width="11.95" stroke-linecap="butt"/>
<ellipse cx="652" cy="1044.7" rx="3.63" ry="6.6" transform="rotate(-150.24 652 1044.7)" fill="#fff" stroke="#111" stroke-width="1.25"/>
<ellipse cx="652" cy="1044.7" rx="2.4" ry="4.36" transform="rotate(-150.24 652 1044.7)" fill="#fff" stroke="#111" stroke-width="1.12"/>
<ellipse cx="529.9" cy="1017.2" rx="3.63" ry="6.6" transform="rotate(-28.16 529.9 1017.2)" fill="#fff" stroke="#111" stroke-width="1.25"/>
<path d="M474.8,1046.7 L529.9,1017.2" fill="none" stroke="#111" stroke-width="14.45" stroke-linecap="butt" stroke-linejoin="round"/>
<path d="M474.8,1046.7 L529.9,1017.2" fill="none" stroke="#fff" stroke-width="11.95" stroke-linecap="butt" stroke-linejoin="round"/>
<path d="M529.46,1017.44 L531.49,1016.35" stroke="#fff" stroke-width="11.95" stroke-linecap="butt"/>
<ellipse cx="474.8" cy="1046.7" rx="3.63" ry="6.6" transform="rotate(-28.16 474.8 1046.7)" fill="#fff" stroke="#111" stroke-width="1.25"/>
<ellipse cx="474.8" cy="1046.7" rx="2.4" ry="4.36" transform="rotate(-28.16 474.8 1046.7)" fill="#fff" stroke="#111" stroke-width="1.12"/>
<ellipse cx="721.9" cy="1087.2" rx="3.63" ry="6.6" transform="rotate(-150.95 721.9 1087.2)" fill="#fff" stroke="#111" stroke-width="1.25"/>
<path d="M778.6,1118.7 L721.9,1087.2" fill="none" stroke="#111" stroke-width="14.45" stroke-linecap="butt" stroke-linejoin="round"/>
<path d="M778.6,1118.7 L721.9,1087.2" fill="none" stroke="#fff" stroke-width="11.95" stroke-linecap="butt" stroke-linejoin="round"/>
<path d="M722.34,1087.44 L720.33,1086.33" stroke="#fff" stroke-width="11.95" stroke-linecap="butt"/>
<ellipse cx="778.6" cy="1118.7" rx="3.63" ry="6.6" transform="rotate(-150.95 778.6 1118.7)" fill="#fff" stroke="#111" stroke-width="1.25"/>
<ellipse cx="778.6" cy="1118.7" rx="2.4" ry="4.36" transform="rotate(-150.95 778.6 1118.7)" fill="#fff" stroke="#111" stroke-width="1.12"/>
<ellipse cx="775.4" cy="1156.5" rx="3.63" ry="6.6" transform="rotate(-30.99 775.4 1156.5)" fill="#fff" stroke="#111" stroke-width="1.25"/>
<path d="M720.3,1189.6 L775.4,1156.5" fill="none" stroke="#111" stroke-width="14.45" stroke-linecap="butt" stroke-linejoin="round"/>
<path d="M720.3,1189.6 L775.4,1156.5" fill="none" stroke="#fff" stroke-width="11.95" stroke-linecap="butt" stroke-linejoin="round"/>
<path d="M774.97,1156.76 L776.94,1155.57" stroke="#fff" stroke-width="11.95" stroke-linecap="butt"/>
<ellipse cx="720.3" cy="1189.6" rx="3.63" ry="6.6" transform="rotate(-30.99 720.3 1189.6)" fill="#fff" stroke="#111" stroke-width="1.25"/>
<ellipse cx="720.3" cy="1189.6" rx="2.4" ry="4.36" transform="rotate(-30.99 720.3 1189.6)" fill="#fff" stroke="#111" stroke-width="1.12"/>
<ellipse cx="492.3" cy="1149.2" rx="3.63" ry="6.6" transform="rotate(-149.47 492.3 1149.2)" fill="#fff" stroke="#111" stroke-width="1.25"/>
<path d="M542.5,1178.8 L492.3,1149.2" fill="none" stroke="#111" stroke-width="14.45" stroke-linecap="butt" stroke-linejoin="round"/>
<path d="M542.5,1178.8 L492.3,1149.2" fill="none" stroke="#fff" stroke-width="11.95" stroke-linecap="butt" stroke-linejoin="round"/>
<path d="M492.73,1149.45 L490.75,1148.29" stroke="#fff" stroke-width="11.95" stroke-linecap="butt"/>
<ellipse cx="542.5" cy="1178.8" rx="3.63" ry="6.6" transform="rotate(-149.47 542.5 1178.8)" fill="#fff" stroke="#111" stroke-width="1.25"/>
<ellipse cx="542.5" cy="1178.8" rx="2.4" ry="4.36" transform="rotate(-149.47 542.5 1178.8)" fill="#fff" stroke="#111" stroke-width="1.12"/>
<ellipse cx="544" cy="1229" rx="3.63" ry="6.6" transform="rotate(-30.11 544 1229)" fill="#fff" stroke="#111" stroke-width="1.25"/>
<path d="M479,1266.7 L544,1229" fill="none" stroke="#111" stroke-width="14.45" stroke-linecap="butt" stroke-linejoin="round"/>
<path d="M479,1266.7 L544,1229" fill="none" stroke="#fff" stroke-width="11.95" stroke-linecap="butt" stroke-linejoin="round"/>
<path d="M543.57,1229.25 L545.56,1228.1" stroke="#fff" stroke-width="11.95" stroke-linecap="butt"/>
<ellipse cx="479" cy="1266.7" rx="3.63" ry="6.6" transform="rotate(-30.11 479 1266.7)" fill="#fff" stroke="#111" stroke-width="1.25"/>
<ellipse cx="479" cy="1266.7" rx="2.4" ry="4.36" transform="rotate(-30.11 479 1266.7)" fill="#fff" stroke="#111" stroke-width="1.12"/>
<path d="M111.7,1012.6 C135,999 160,984.5 183,984.5 C200,984.5 212,989 230,999 L279.5,1026.7" fill="none" stroke="#111" stroke-width="15.25" stroke-linecap="butt" stroke-linejoin="round"/>
<path d="M111.7,1012.6 C135,999 160,984.5 183,984.5 C200,984.5 212,989 230,999 L279.5,1026.7" fill="none" stroke="#fff" stroke-width="12.75" stroke-linecap="butt" stroke-linejoin="round"/>
<ellipse cx="111.7" cy="1012.6" rx="3.85" ry="7" transform="rotate(149.73 111.7 1012.6)" fill="#fff" stroke="#111" stroke-width="1.25"/>
<ellipse cx="111.7" cy="1012.6" rx="2.54" ry="4.62" transform="rotate(149.73 111.7 1012.6)" fill="#fff" stroke="#111" stroke-width="1.12"/>
<ellipse cx="279.5" cy="1026.7" rx="3.85" ry="7" transform="rotate(29.23 279.5 1026.7)" fill="#fff" stroke="#111" stroke-width="1.25"/>
<ellipse cx="279.5" cy="1026.7" rx="2.54" ry="4.62" transform="rotate(29.23 279.5 1026.7)" fill="#fff" stroke="#111" stroke-width="1.12"/>
<path d="M339.1,942.6 C365,928 385,918 407,918.6 C425,919 440,924 458,934 L535,979.2" fill="none" stroke="#111" stroke-width="16.05" stroke-linecap="butt" stroke-linejoin="round"/>
<path d="M339.1,942.6 C365,928 385,918 407,918.6 C425,919 440,924 458,934 L535,979.2" fill="none" stroke="#fff" stroke-width="13.55" stroke-linecap="butt" stroke-linejoin="round"/>
<ellipse cx="339.1" cy="942.6" rx="4.07" ry="7.4" transform="rotate(150.59 339.1 942.6)" fill="#fff" stroke="#111" stroke-width="1.25"/>
<ellipse cx="339.1" cy="942.6" rx="2.69" ry="4.88" transform="rotate(150.59 339.1 942.6)" fill="#fff" stroke="#111" stroke-width="1.12"/>
<ellipse cx="535" cy="979.2" rx="4.07" ry="7.4" transform="rotate(30.41 535 979.2)" fill="#fff" stroke="#111" stroke-width="1.25"/>
<ellipse cx="535" cy="979.2" rx="2.69" ry="4.88" transform="rotate(30.41 535 979.2)" fill="#fff" stroke="#111" stroke-width="1.12"/>
<ellipse cx="839.9" cy="1155.9" rx="4.18" ry="7.6" transform="rotate(-150.57 839.9 1155.9)" fill="#fff" stroke="#111" stroke-width="1.25"/>
<path d="M839.9,1155.9 L923.4,1203 C952.9,1219.7 949.9,1240.4 935.2,1247.3 L908.6,1264.8" fill="none" stroke="#111" stroke-width="16.45" stroke-linecap="butt" stroke-linejoin="round"/>
<path d="M839.9,1155.9 L923.4,1203 C952.9,1219.7 949.9,1240.4 935.2,1247.3 L908.6,1264.8" fill="none" stroke="#fff" stroke-width="13.95" stroke-linecap="butt" stroke-linejoin="round"/>
<path d="M840.34,1156.15 L838.33,1155.02" stroke="#fff" stroke-width="13.95" stroke-linecap="butt"/>
<ellipse cx="908.6" cy="1264.8" rx="4.18" ry="7.6" transform="rotate(146.66 908.6 1264.8)" fill="#fff" stroke="#111" stroke-width="1.25"/>
<ellipse cx="908.6" cy="1264.8" rx="2.76" ry="5.02" transform="rotate(146.66 908.6 1264.8)" fill="#fff" stroke="#111" stroke-width="1.12"/>
<ellipse cx="626" cy="1227.1" rx="3.8" ry="6.9" transform="rotate(-149.8 626 1227.1)" fill="#fff" stroke="#111" stroke-width="1.25"/>
<path d="M626,1227.1 L681.5,1259.4 C701.6,1270.8 703.9,1290.3 691.5,1298 L649.6,1322.8" fill="none" stroke="#111" stroke-width="15.05" stroke-linecap="butt" stroke-linejoin="round"/>
<path d="M626,1227.1 L681.5,1259.4 C701.6,1270.8 703.9,1290.3 691.5,1298 L649.6,1322.8" fill="none" stroke="#fff" stroke-width="12.55" stroke-linecap="butt" stroke-linejoin="round"/>
<path d="M626.43,1227.35 L624.44,1226.19" stroke="#fff" stroke-width="12.55" stroke-linecap="butt"/>
<ellipse cx="649.6" cy="1322.8" rx="3.8" ry="6.9" transform="rotate(149.38 649.6 1322.8)" fill="#fff" stroke="#111" stroke-width="1.25"/>
<ellipse cx="649.6" cy="1322.8" rx="2.5" ry="4.55" transform="rotate(149.38 649.6 1322.8)" fill="#fff" stroke="#111" stroke-width="1.12"/>
<polygon points="317.09,1047.3 302.09,1056 305.11,1061.2 320.11,1052.5" fill="#fff" stroke="none"/>
<path d="M317.09,1047.3 L302.09,1056 M320.11,1052.5 L305.11,1061.2" fill="none" stroke="#111" stroke-width="1.3" stroke-linecap="round"/>
<ellipse cx="303.6" cy="1058.6" rx="2.4" ry="3" transform="rotate(149.89 303.6 1058.6)" fill="#fff" stroke="#111" stroke-width="1.3"/>
<ellipse cx="303.2" cy="1040.9" rx="2.4" ry="3" transform="rotate(29.4 303.2 1040.9)" fill="#fff" stroke="#111" stroke-width="1.3"/>
<polygon points="301.73,1043.51 332.43,1060.81 335.37,1055.59 304.67,1038.29" fill="#fff" stroke="none"/>
<path d="M301.73,1043.51 L332.43,1060.81 M304.67,1038.29 L335.37,1055.59" fill="none" stroke="#111" stroke-width="1.3" stroke-linecap="round"/>
<ellipse cx="333.9" cy="1058.2" rx="2.4" ry="3" transform="rotate(29.4 333.9 1058.2)" fill="#fff" stroke="#111" stroke-width="1.3"/>
<ellipse cx="303.2" cy="1040.9" rx="2.4" ry="3" transform="rotate(29.4 303.2 1040.9)" fill="#fff" stroke="#111" stroke-width="2.3"/>
<ellipse cx="333.9" cy="1058.2" rx="2.4" ry="3" transform="rotate(29.4 333.9 1058.2)" fill="#fff" stroke="#111" stroke-width="2.3"/>
<ellipse cx="303.6" cy="1058.6" rx="2.4" ry="3" transform="rotate(149.89 303.6 1058.6)" fill="#fff" stroke="#111" stroke-width="2.3"/>
<polygon points="563.48,993.41 544.18,1004.71 547.22,1009.89 566.52,998.59" fill="#fff" stroke="none"/>
<path d="M563.48,993.41 L544.18,1004.71 M566.52,998.59 L547.22,1009.89" fill="none" stroke="#111" stroke-width="1.3" stroke-linecap="round"/>
<ellipse cx="545.7" cy="1007.3" rx="2.4" ry="3" transform="rotate(149.65 545.7 1007.3)" fill="#fff" stroke="#111" stroke-width="1.3"/>
<ellipse cx="543.7" cy="983.7" rx="2.4" ry="3" transform="rotate(30.59 543.7 983.7)" fill="#fff" stroke="#111" stroke-width="1.3"/>
<polygon points="542.17,986.28 585.47,1011.88 588.53,1006.72 545.23,981.12" fill="#fff" stroke="none"/>
<path d="M542.17,986.28 L585.47,1011.88 M545.23,981.12 L588.53,1006.72" fill="none" stroke="#111" stroke-width="1.3" stroke-linecap="round"/>
<ellipse cx="587" cy="1009.3" rx="2.4" ry="3" transform="rotate(30.59 587 1009.3)" fill="#fff" stroke="#111" stroke-width="1.3"/>
<ellipse cx="543.7" cy="983.7" rx="2.4" ry="3" transform="rotate(30.59 543.7 983.7)" fill="#fff" stroke="#111" stroke-width="2.3"/>
<ellipse cx="587" cy="1009.3" rx="2.4" ry="3" transform="rotate(30.59 587 1009.3)" fill="#fff" stroke="#111" stroke-width="2.3"/>
<ellipse cx="545.7" cy="1007.3" rx="2.4" ry="3" transform="rotate(149.65 545.7 1007.3)" fill="#fff" stroke="#111" stroke-width="2.3"/>
<polygon points="806.39,1134.47 787.99,1146.17 791.21,1151.23 809.61,1139.53" fill="#fff" stroke="none"/>
<path d="M806.39,1134.47 L787.99,1146.17 M809.61,1139.53 L791.21,1151.23" fill="none" stroke="#111" stroke-width="1.3" stroke-linecap="round"/>
<ellipse cx="789.6" cy="1148.7" rx="2.4" ry="3" transform="rotate(147.55 789.6 1148.7)" fill="#fff" stroke="#111" stroke-width="1.3"/>
<ellipse cx="788" cy="1125" rx="2.4" ry="3" transform="rotate(30.03 788 1125)" fill="#fff" stroke="#111" stroke-width="1.3"/>
<polygon points="786.5,1127.6 827.5,1151.3 830.5,1146.1 789.5,1122.4" fill="#fff" stroke="none"/>
<path d="M786.5,1127.6 L827.5,1151.3 M789.5,1122.4 L830.5,1146.1" fill="none" stroke="#111" stroke-width="1.3" stroke-linecap="round"/>
<ellipse cx="829" cy="1148.7" rx="2.4" ry="3" transform="rotate(30.03 829 1148.7)" fill="#fff" stroke="#111" stroke-width="1.3"/>
<ellipse cx="788" cy="1125" rx="2.4" ry="3" transform="rotate(30.03 788 1125)" fill="#fff" stroke="#111" stroke-width="2.3"/>
<ellipse cx="829" cy="1148.7" rx="2.4" ry="3" transform="rotate(30.03 829 1148.7)" fill="#fff" stroke="#111" stroke-width="2.3"/>
<ellipse cx="789.6" cy="1148.7" rx="2.4" ry="3" transform="rotate(147.55 789.6 1148.7)" fill="#fff" stroke="#111" stroke-width="2.3"/>
<polygon points="583.21,1200.6 570.21,1210.3 573.79,1215.1 586.79,1205.4" fill="#fff" stroke="none"/>
<path d="M583.21,1200.6 L570.21,1210.3 M586.79,1205.4 L573.79,1215.1" fill="none" stroke="#111" stroke-width="1.3" stroke-linecap="round"/>
<ellipse cx="572" cy="1212.7" rx="2.4" ry="3" transform="rotate(143.27 572 1212.7)" fill="#fff" stroke="#111" stroke-width="1.3"/>
<ellipse cx="570.6" cy="1195" rx="2.4" ry="3" transform="rotate(29.72 570.6 1195)" fill="#fff" stroke="#111" stroke-width="1.3"/>
<polygon points="569.11,1197.61 600.11,1215.31 603.09,1210.09 572.09,1192.39" fill="#fff" stroke="none"/>
<path d="M569.11,1197.61 L600.11,1215.31 M572.09,1192.39 L603.09,1210.09" fill="none" stroke="#111" stroke-width="1.3" stroke-linecap="round"/>
<ellipse cx="601.6" cy="1212.7" rx="2.4" ry="3" transform="rotate(29.72 601.6 1212.7)" fill="#fff" stroke="#111" stroke-width="1.3"/>
<ellipse cx="570.6" cy="1195" rx="2.4" ry="3" transform="rotate(29.72 570.6 1195)" fill="#fff" stroke="#111" stroke-width="2.3"/>
<ellipse cx="601.6" cy="1212.7" rx="2.4" ry="3" transform="rotate(29.72 601.6 1212.7)" fill="#fff" stroke="#111" stroke-width="2.3"/>
<ellipse cx="572" cy="1212.7" rx="2.4" ry="3" transform="rotate(143.27 572 1212.7)" fill="#fff" stroke="#111" stroke-width="2.3"/>
<polygon points="458.12,1130.12 470.82,1117.42 466.58,1113.18 453.88,1125.88" fill="#fff" stroke="none"/>
<path d="M458.12,1130.12 L470.82,1117.42 M453.88,1125.88 L466.58,1113.18" fill="none" stroke="#111" stroke-width="1.3" stroke-linecap="round"/>
<ellipse cx="468.7" cy="1115.3" rx="2.4" ry="3" transform="rotate(-45 468.7 1115.3)" fill="#fff" stroke="#111" stroke-width="1.3"/>
<ellipse cx="433.3" cy="1116.8" rx="2.4" ry="3" transform="rotate(28.36 433.3 1116.8)" fill="#fff" stroke="#111" stroke-width="1.3"/>
<polygon points="431.87,1119.44 465.77,1137.74 468.63,1132.46 434.73,1114.16" fill="#fff" stroke="none"/>
<path d="M431.87,1119.44 L465.77,1137.74 M434.73,1114.16 L468.63,1132.46" fill="none" stroke="#111" stroke-width="1.3" stroke-linecap="round"/>
<ellipse cx="467.2" cy="1135.1" rx="2.4" ry="3" transform="rotate(28.36 467.2 1135.1)" fill="#fff" stroke="#111" stroke-width="1.3"/>
<ellipse cx="433.3" cy="1116.8" rx="2.4" ry="3" transform="rotate(28.36 433.3 1116.8)" fill="#fff" stroke="#111" stroke-width="2.3"/>
<ellipse cx="467.2" cy="1135.1" rx="2.4" ry="3" transform="rotate(28.36 467.2 1135.1)" fill="#fff" stroke="#111" stroke-width="2.3"/>
<ellipse cx="468.7" cy="1115.3" rx="2.4" ry="3" transform="rotate(-45 468.7 1115.3)" fill="#fff" stroke="#111" stroke-width="2.3"/>
<!-- 61_clips.svg -->
<g transform="translate(96.5,1021.7) scale(-1,1)" fill="none" stroke="#111" stroke-width="1.15" stroke-linecap="round"><ellipse cx="0" cy="0" rx="5.4" ry="7.6" transform="rotate(25)" fill="#fff"/><path d="M-5.6,0.2 C-8,-1.8 -11,-2 -12,-0.8 C-11.5,1 -8,1.4 -5.6,0.2 M-4.8,3.8 C-6,5.5 -7.5,6.5 -8.3,7.2 C-10,7.5 -12.3,10 -12,12 C-10,12.3 -7.5,10 -8.3,7.2"/></g>
<g transform="translate(292.8,1034.7) scale(1,1)" fill="none" stroke="#111" stroke-width="1.15" stroke-linecap="round"><ellipse cx="0" cy="0" rx="5.4" ry="7.6" transform="rotate(25)" fill="#fff"/><path d="M-5.6,0.2 C-8,-1.8 -11,-2 -12,-0.8 C-11.5,1 -8,1.4 -5.6,0.2 M-4.8,3.8 C-6,5.5 -7.5,6.5 -8.3,7.2 C-10,7.5 -12.3,10 -12,12 C-10,12.3 -7.5,10 -8.3,7.2"/></g>
<g transform="translate(289.5,1068.4) scale(-1,1)" fill="none" stroke="#111" stroke-width="1.15" stroke-linecap="round"><ellipse cx="0" cy="0" rx="5.4" ry="7.6" transform="rotate(25)" fill="#fff"/><path d="M-5.6,0.2 C-8,-1.8 -11,-2 -12,-0.8 C-11.5,1 -8,1.4 -5.6,0.2 M-4.8,3.8 C-6,5.5 -7.5,6.5 -8.3,7.2 C-10,7.5 -12.3,10 -12,12 C-10,12.3 -7.5,10 -8.3,7.2"/></g>
<g transform="translate(345.4,1063.7) scale(1,1)" fill="none" stroke="#111" stroke-width="1.15" stroke-linecap="round"><ellipse cx="0" cy="0" rx="5.4" ry="7.6" transform="rotate(25)" fill="#fff"/><path d="M-5.6,0.2 C-8,-1.8 -11,-2 -12,-0.8 C-11.5,1 -8,1.4 -5.6,0.2 M-4.8,3.8 C-6,5.5 -7.5,6.5 -8.3,7.2 C-10,7.5 -12.3,10 -12,12 C-10,12.3 -7.5,10 -8.3,7.2"/></g>
<g transform="translate(191.9,1121.6) scale(-1,1)" fill="none" stroke="#111" stroke-width="1.15" stroke-linecap="round"><ellipse cx="0" cy="0" rx="5.4" ry="7.6" transform="rotate(25)" fill="#fff"/><path d="M-5.6,0.2 C-8,-1.8 -11,-2 -12,-0.8 C-11.5,1 -8,1.4 -5.6,0.2 M-4.8,3.8 C-6,5.5 -7.5,6.5 -8.3,7.2 C-10,7.5 -12.3,10 -12,12 C-10,12.3 -7.5,10 -8.3,7.2"/></g>
<g transform="translate(421.4,1109.4) scale(1,1)" fill="none" stroke="#111" stroke-width="1.15" stroke-linecap="round"><ellipse cx="0" cy="0" rx="5.4" ry="7.6" transform="rotate(25)" fill="#fff"/><path d="M-5.6,0.2 C-8,-1.8 -11,-2 -12,-0.8 C-11.5,1 -8,1.4 -5.6,0.2 M-4.8,3.8 C-6,5.5 -7.5,6.5 -8.3,7.2 C-10,7.5 -12.3,10 -12,12 C-10,12.3 -7.5,10 -8.3,7.2"/></g>
<g transform="translate(479.6,1141.9) scale(1,1)" fill="none" stroke="#111" stroke-width="1.15" stroke-linecap="round"><ellipse cx="0" cy="0" rx="5.4" ry="7.6" transform="rotate(25)" fill="#fff"/><path d="M-5.6,0.2 C-8,-1.8 -11,-2 -12,-0.8 C-11.5,1 -8,1.4 -5.6,0.2 M-4.8,3.8 C-6,5.5 -7.5,6.5 -8.3,7.2 C-10,7.5 -12.3,10 -12,12 C-10,12.3 -7.5,10 -8.3,7.2"/></g>
<g transform="translate(558.8,1189.1) scale(1,1)" fill="none" stroke="#111" stroke-width="1.15" stroke-linecap="round"><ellipse cx="0" cy="0" rx="5.4" ry="7.6" transform="rotate(25)" fill="#fff"/><path d="M-5.6,0.2 C-8,-1.8 -11,-2 -12,-0.8 C-11.5,1 -8,1.4 -5.6,0.2 M-4.8,3.8 C-6,5.5 -7.5,6.5 -8.3,7.2 C-10,7.5 -12.3,10 -12,12 C-10,12.3 -7.5,10 -8.3,7.2"/></g>
<g transform="translate(558.2,1220.1) scale(-1,1)" fill="none" stroke="#111" stroke-width="1.15" stroke-linecap="round"><ellipse cx="0" cy="0" rx="5.4" ry="7.6" transform="rotate(25)" fill="#fff"/><path d="M-5.6,0.2 C-8,-1.8 -11,-2 -12,-0.8 C-11.5,1 -8,1.4 -5.6,0.2 M-4.8,3.8 C-6,5.5 -7.5,6.5 -8.3,7.2 C-10,7.5 -12.3,10 -12,12 C-10,12.3 -7.5,10 -8.3,7.2"/></g>
<g transform="translate(614.2,1220.5) scale(1,1)" fill="none" stroke="#111" stroke-width="1.15" stroke-linecap="round"><ellipse cx="0" cy="0" rx="5.4" ry="7.6" transform="rotate(25)" fill="#fff"/><path d="M-5.6,0.2 C-8,-1.8 -11,-2 -12,-0.8 C-11.5,1 -8,1.4 -5.6,0.2 M-4.8,3.8 C-6,5.5 -7.5,6.5 -8.3,7.2 C-10,7.5 -12.3,10 -12,12 C-10,12.3 -7.5,10 -8.3,7.2"/></g>
<g transform="translate(461.3,1276.2) scale(-1,1)" fill="none" stroke="#111" stroke-width="1.15" stroke-linecap="round"><ellipse cx="0" cy="0" rx="5.4" ry="7.6" transform="rotate(25)" fill="#fff"/><path d="M-5.6,0.2 C-8,-1.8 -11,-2 -12,-0.8 C-11.5,1 -8,1.4 -5.6,0.2 M-4.8,3.8 C-6,5.5 -7.5,6.5 -8.3,7.2 C-10,7.5 -12.3,10 -12,12 C-10,12.3 -7.5,10 -8.3,7.2"/></g>
<g transform="translate(636,1330.5) scale(-1,1)" fill="none" stroke="#111" stroke-width="1.15" stroke-linecap="round"><ellipse cx="0" cy="0" rx="5.4" ry="7.6" transform="rotate(25)" fill="#fff"/><path d="M-5.6,0.2 C-8,-1.8 -11,-2 -12,-0.8 C-11.5,1 -8,1.4 -5.6,0.2 M-4.8,3.8 C-6,5.5 -7.5,6.5 -8.3,7.2 C-10,7.5 -12.3,10 -12,12 C-10,12.3 -7.5,10 -8.3,7.2"/></g>
<!-- 62_con6.svg -->
<polyline points="720.9,994.7 731.3,1002.4 667.6,1039.6 675.5,1044.5" class="ln"/>
<g class="z" transform="translate(650,1030) scale(0.06890)" style="fill:#fff;stroke:#111;stroke-width:1.4;stroke-linejoin:round;stroke-linecap:round">
<path d="M405,255 C420,200 480,200 500,235 L640,315 L560,370 L410,290 Z"/>
<ellipse cx="430" cy="258" rx="45" ry="58" transform="rotate(25 430 258)" style="stroke-width:1.8"/>
<path d="M190,345 C210,300 260,300 290,330 L430,410 L400,470 L230,420 Z"/>
<ellipse cx="215" cy="375" rx="45" ry="58" transform="rotate(25 215 375)" style="stroke-width:1.8"/>
<path d="M400,470 C450,400 600,310 720,305 C800,305 840,350 835,420 C830,500 780,540 720,570 L560,560 C500,560 440,520 400,470 Z"/>
<path d="M745,455 L835,400" fill="none"/>
<path d="M420,540 L560,560 L600,560 L860,690 L800,760 L540,630 Z"/>
<ellipse cx="420" cy="595" rx="45" ry="58" transform="rotate(10 420 595)"/>
<path d="M480,560 C540,560 580,600 570,640 C560,660 520,665 480,650" fill="none"/>
<ellipse cx="830" cy="715" rx="50" ry="60" transform="rotate(25 830 715)" style="stroke-width:1.8"/>
</g>

<!-- 70_fwd.svg -->
<g class="z" transform="translate(50,1320) scale(0.098425)">
<path d="M125,730 L355,350 L395,370 L400,405 L845,155 L893,180 L893,490 L400,770 L400,862 Z" fill="#111" stroke="#111" stroke-width="0.8"/>
<path d="M148,722 L362,378 M412,428 L862,178" fill="none" stroke="#fff" stroke-width="1.6"/>
<g transform="translate(405,718) skewY(-29.5)"><text x="0" y="0" textLength="455" lengthAdjust="spacingAndGlyphs" style="font-family:'Liberation Sans',sans-serif;font-size:290px;fill:#fff;stroke:#fff;stroke-width:0.5;font-weight:normal">FWD</text></g>
</g>

<!-- 90_watermark.svg -->
<g style="mix-blend-mode:multiply">
<text x="324.5" y="804.5" textLength="131" lengthAdjust="spacingAndGlyphs" style="font-family:'Liberation Sans',sans-serif;font-weight:bold;font-style:italic;font-size:25.5px;fill:#c9c9c9">SKLEP</text>
<text x="457" y="804.5" textLength="112" lengthAdjust="spacingAndGlyphs" style="font-family:'Liberation Sans',sans-serif;font-weight:bold;font-style:italic;font-size:25.5px;fill:#fac3c3">MOTO</text>
<polygon points="571.3,780 633.7,780 627,811.3 562.5,811.3" fill="#fac3c3"/>
<text x="570" y="804.5" textLength="55" lengthAdjust="spacingAndGlyphs" style="font-family:'Liberation Sans',sans-serif;font-weight:bold;font-style:italic;font-size:24px;fill:#fff">40</text>
<text x="631" y="804.5" textLength="54" lengthAdjust="spacingAndGlyphs" style="font-family:'Liberation Sans',sans-serif;font-weight:bold;font-style:italic;font-size:25.5px;fill:#c9c9c9">.PL</text>
<text x="322" y="818.3" textLength="236" lengthAdjust="spacing" style="font-family:'Liberation Sans',sans-serif;font-weight:bold;font-style:italic;font-size:13.5px;fill:#c4c4c4">internetowy sklep motocyklowy</text>
</g>

<g class="ln">
<line x1="265" y1="128" x2="265" y2="169"/>
<line x1="451.5" y1="167" x2="451.5" y2="212.5"/>
<line x1="433.7" y1="329.8" x2="481" y2="329.8"/>
<line x1="416.4" y1="371.2" x2="464.4" y2="371.2"/>
<line x1="404.8" y1="397.6" x2="452.6" y2="397.6"/>
<line x1="397.7" y1="422.5" x2="445.5" y2="422.5"/>
<line x1="543.5" y1="292.7" x2="543.5" y2="328.5"/>
<line x1="597.7" y1="338.7" x2="597.7" y2="373.3"/>
<line x1="659" y1="358" x2="659" y2="395"/>
<line x1="752.9" y1="341" x2="752.9" y2="389.8"/>
<line x1="849" y1="340" x2="893" y2="340"/>
<line x1="834.8" y1="385" x2="884.3" y2="385"/>
<line x1="832.6" y1="502.5" x2="860" y2="502.5"/>
<polyline points="893,502.5 910.4,502.5 910.4,571.5 817.5,571.5"/>
<line x1="910.4" y1="536.9" x2="927.7" y2="536.9"/>
<line x1="786" y1="629" x2="834.8" y2="629"/>
<line x1="212.5" y1="643.5" x2="212.5" y2="677.5"/>
<line x1="428.3" y1="877.4" x2="428.3" y2="912"/>
<line x1="626.4" y1="894" x2="626.4" y2="928.6"/>
<line x1="568.5" y1="955" x2="568.5" y2="991.6"/>
<line x1="228.1" y1="957.4" x2="228.1" y2="988.9"/>
<line x1="98.6" y1="1029.5" x2="98.6" y2="1050"/>
<line x1="293" y1="1002.7" x2="293" y2="1028"/>
<line x1="326" y1="1022" x2="326" y2="1050"/>
<line x1="240" y1="1068" x2="240" y2="1085"/>
<line x1="190.7" y1="1088" x2="190.7" y2="1116.9"/>
<line x1="289.5" y1="1075.5" x2="289.5" y2="1101"/>
<line x1="345.4" y1="1077.5" x2="345.4" y2="1109"/>
<line x1="388" y1="1062" x2="388" y2="1081.4"/>
<line x1="426" y1="1083" x2="426" y2="1105"/>
<line x1="515.4" y1="1040" x2="515.4" y2="1071"/>
<line x1="618.4" y1="1040" x2="618.4" y2="1064"/>
<line x1="684" y1="1074.6" x2="684" y2="1099.8"/>
<line x1="760.3" y1="1077" x2="760.3" y2="1099.8"/>
<line x1="812" y1="1097" x2="812" y2="1134.5"/>
<line x1="893.9" y1="1142" x2="893.9" y2="1177"/>
<line x1="752.8" y1="1183.3" x2="752.8" y2="1216.4"/>
<line x1="481" y1="1108" x2="481" y2="1134.5"/>
<line x1="446.6" y1="1128.6" x2="446.6" y2="1149.8"/>
<line x1="526.3" y1="1140" x2="526.3" y2="1159.6"/>
<line x1="560.5" y1="1161" x2="560.5" y2="1181.7"/>
<line x1="596.3" y1="1178" x2="596.3" y2="1205"/>
<line x1="505.9" y1="1209" x2="505.9" y2="1240.8"/>
<line x1="674.5" y1="1214" x2="674.5" y2="1245.2"/>
<line x1="459" y1="1242" x2="459" y2="1267.3"/>
<line x1="557.6" y1="1229" x2="557.6" y2="1258.5"/>
<line x1="614" y1="1232" x2="614" y2="1261.4"/>
<line x1="637" y1="1305" x2="637" y2="1325"/>
</g>
<g class="l">
<text x="265" y="122.5">1</text>
<text x="450.2" y="162.3">24</text>
<text x="425" y="337.6">3</text>
<text x="407.4" y="378.9">2</text>
<text x="393.5" y="405.1">9</text>
<text x="389" y="430">4</text>
<text x="543" y="350.3">5</text>
<text x="597.8" y="395.8">25</text>
<text x="658.9" y="418">5</text>
<text x="752" y="334.6">23</text>
<text x="903.2" y="346.6">7</text>
<text x="895.2" y="393">8</text>
<text x="876.5" y="510.4">18</text>
<text x="943.7" y="544.1">17</text>
<text x="852.1" y="636.4">19</text>
<text x="211.5" y="637.5">20</text>
<text x="428.2" y="874.6">21</text>
<text x="625.4" y="890.4">13</text>
<text x="567.9" y="951.4">22</text>
<text x="227.3" y="953.5">14</text>
<text x="98" y="1072.8">10</text>
<text x="292.7" y="999.9">10</text>
<text x="326.3" y="1017.6">22</text>
<text x="238" y="1064.5">15</text>
<text x="190.8" y="1084.6">10</text>
<text x="289.2" y="1121.6">10</text>
<text x="344.7" y="1128.7">10</text>
<text x="387.7" y="1057.8">15</text>
<text x="425.2" y="1079.4">10</text>
<text x="515.7" y="1093.7">12</text>
<text x="618.4" y="1082">11</text>
<text x="683.8" y="1120.3">6</text>
<text x="760.2" y="1073">11</text>
<text x="812.6" y="1093.5">22</text>
<text x="894" y="1138.3">21</text>
<text x="753.7" y="1239">12</text>
<text x="480.2" y="1104.4">10</text>
<text x="444.6" y="1170.5">16</text>
<text x="526.3" y="1136">15</text>
<text x="559.7" y="1157.5">10</text>
<text x="596" y="1174.3">22</text>
<text x="505.3" y="1205.3">15</text>
<text x="673.9" y="1210.7">14</text>
<text x="460.9" y="1238.4">10</text>
<text x="556.1" y="1279.2">10</text>
<text x="612.5" y="1282.7">10</text>
<text x="638.2" y="1302">10</text>
</g>
</svg>
</body></html>
